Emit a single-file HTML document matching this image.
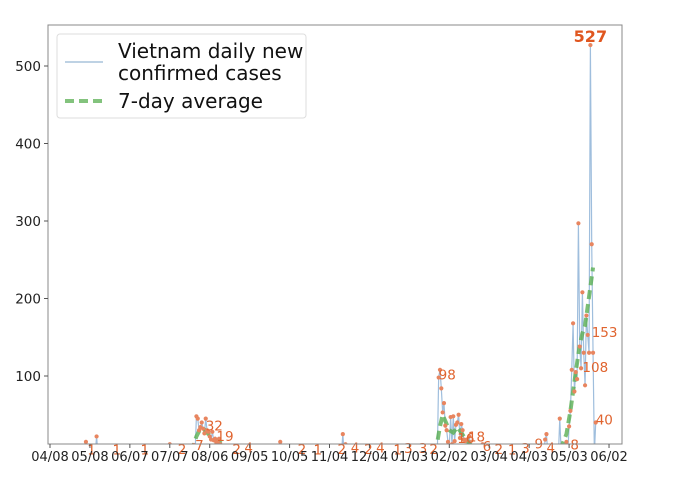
<!DOCTYPE html>
<html><head><meta charset="utf-8"><style>
html,body{margin:0;padding:0;background:#fff;}
svg{display:block;font-family:"DejaVu Sans","Liberation Sans",sans-serif;}
</style></head><body>
<svg id="chart" width="679" height="494" viewBox="0 0 679 494" xmlns="http://www.w3.org/2000/svg"></svg>
<script>
// Daily cases: day offset from 2020-04-08, value
const caseDays = [3,27,35,48,67,90,100,104,106,108,110,111,112,113,114,115,116,117,118,119,120,121,122,123,124,125,126,127,128,129,130,132,134,173,186,198,206,220,222,224,226,230,240,250,258,265,273,280,290,292,293,294,295,296,297,298,299,300,301,302,303,304,305,306,307,308,309,310,311,312,313,314,315,316,318,320,322,325,328,340,350,360,365,370,372,373,375,378,380,383,384,386,388,390,391,392,393,394,395,396,397,398,399,400,401,402,403,404,405,406,407,408,410];
const caseVals = [1,15,22,1,1,12,2,7,3,11,48,45,30,34,40,32,26,45,30,28,22,18,28,17,19,14,15,19,12,8,5,2,4,15,2,1,10,25,12,8,4,2,4,1,3,3,2,2,2,98,108,84,53,65,36,30,15,10,47,12,48,16,37,40,50,20,38,30,18,16,18,5,22,10,6,8,2,12,1,1,3,3,6,9,18,25,4,2,8,45,4,8,15,35,55,108,168,80,105,96,297,138,110,208,130,88,178,153,130,527,270,130,40];
const avgDays = [106,108,110,113,116,119,122,125,128,131,134, 289,291,293,295,298,300,303,306,309,312,315,318,322,326, 368,372,376,380,383,385,388,391,393,395,398,400,402,404,406,408];
const avgVals = [2,12,22,32,31,25,22,17,14,8,3, 3,15,35,50,38,30,27,34,27,19,13,8,5,3, 3,8,5,4,6,12,25,55,80,105,140,155,165,190,215,240];
const labelDays = [28,47,68,96,109,117,125,137,146,186,198,216,226,236,245,258,266,277,285,292,306,314,325,334,344,354,364,373,391,400,407,410];
const labelVals = [1,1,1,2,7,32,19,2,4,2,1,2,4,2,4,1,3,3,2,98,16,18,6,2,1,3,9,4,8,108,153,40];
const yTicks = [100,200,300,400,500];
const xTickLabels = ["04/08","05/08","06/07","07/07","08/06","09/05","10/05","11/04","12/04","01/03","02/02","03/04","04/03","05/03","06/02"];

const NS="http://www.w3.org/2000/svg";
const svg=document.getElementById('chart');
const L=48,R=622,T=25,B=444;
const x=d=>50+d*1.331;
const y=v=>453.5-v*0.775;
function mk(tag,attrs,parent){const e=document.createElementNS(NS,tag);for(const k in attrs)e.setAttribute(k,attrs[k]);(parent||svg).appendChild(e);return e;}

const defs=mk('defs',{});
const cp=mk('clipPath',{id:'clip'},defs);
mk('rect',{x:L,y:T,width:R-L,height:B-T},cp);

const plot=mk('g',{'clip-path':'url(#clip)'});



let pts=[];
for(let i=0;i<caseDays.length;i++){
  const d=caseDays[i];
  if(i>0 && d-caseDays[i-1]>1) pts.push([x(caseDays[i-1]+1),y(0)]);
  if(i>0 && d-caseDays[i-1]>2) pts.push([x(d-1),y(0)]);
  pts.push([x(d),y(caseVals[i])]);
}
const line=mk('polyline',{points:pts.map(p=>p.join(',')).join(' '),fill:'none',stroke:'#9fbedd','stroke-width':1.2},plot);



const avg=mk('polyline',{points:avgDays.map((d,i)=>x(d)+','+y(avgVals[i])).join(' '),fill:'none',stroke:'#5aaf52','stroke-width':4,'stroke-dasharray':'9,5','stroke-opacity':0.8},plot);



caseDays.forEach((d,i)=>{
  const c=mk('circle',{cx:x(d),cy:y(caseVals[i]),r:2.1,fill:'#e8855f'},plot);
  
  
});

labelDays.forEach((d,i)=>{
  const t=mk('text',{x:x(d),y:y(labelVals[i])+2,'font-size':13.5,fill:'#e0642f'});
  t.textContent=labelVals[i];
  
  
});
const pk=mk('text',{x:x(406),y:42,'font-size':16,'font-weight':'bold',fill:'#e0561f','text-anchor':'middle'});
pk.textContent='527';



const frame=mk('rect',{x:L,y:T,width:R-L,height:B-T,fill:'none',stroke:'#888','stroke-width':1});



yTicks.forEach(v=>{
  mk('line',{x1:L-4,x2:L,y1:y(v),y2:y(v),stroke:'#555'});
  const t=mk('text',{x:L-7,y:y(v)+5,'font-size':13.5,'text-anchor':'end',fill:'#222'});
  t.textContent=v;
  
  
});
xTickLabels.forEach((s,i)=>{
  const xx=x(i*30);
  mk('line',{x1:xx,x2:xx,y1:B,y2:B+4,stroke:'#555'});
  const t=mk('text',{x:xx,y:B+17,'font-size':13,'text-anchor':'middle',fill:'#222'});
  t.textContent=s;
  
  
});

const lg=mk('g',{});


mk('rect',{x:57,y:34,width:249,height:84,rx:3,fill:'#fff',stroke:'#ddd'},lg);
mk('line',{x1:65,x2:103,y1:62,y2:62,stroke:'#a9c3dc','stroke-width':1.5},lg);
mk('line',{x1:65,x2:103,y1:101,y2:101,stroke:'#5aaf52','stroke-width':4,'stroke-dasharray':'9,5','stroke-opacity':0.75},lg);
[['Vietnam daily new',58],['confirmed cases',80],['7-day average',108]].forEach(([s,yy])=>{
  const t=mk('text',{x:118,y:yy,'font-size':20,fill:'#111'},lg);
  t.textContent=s;
  
  
});
</script>
</body></html>
